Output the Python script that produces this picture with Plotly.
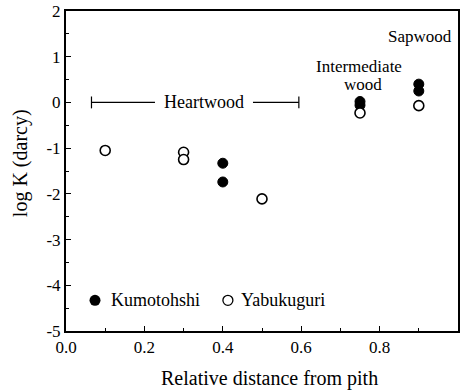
import plotly.graph_objects as go

# Data
kumo_x = [0.40, 0.40, 0.75, 0.75, 0.90, 0.90]
kumo_y = [-1.33, -1.74, 0.02, -0.06, 0.40, 0.25]
yabu_x = [0.10, 0.30, 0.30, 0.50, 0.75, 0.90]
yabu_y = [-1.05, -1.09, -1.25, -2.11, -0.23, -0.07]

x_ticks = [0.0, 0.2, 0.4, 0.6, 0.8, 1.0]
x_labels = ["0.0", "0.2", "0.4", "0.6", "0.8", "1.0"]
y_ticks = [-5, -4, -3, -2, -1, 0, 1, 2]
y_labels = ["-5", "-4", "-3", "-2", "-1", "0", "1", "2"]

FONT = "Times New Roman"
TXT = dict(family=FONT, size=18, color="black")

fig = go.Figure()
fig.add_trace(go.Scatter(x=kumo_x, y=kumo_y, mode="markers", name="Kumotohshi",
                         marker=dict(symbol="circle", size=10, color="black",
                                     line=dict(color="black", width=1)),
                         showlegend=False))
fig.add_trace(go.Scatter(x=yabu_x, y=yabu_y, mode="markers", name="Yabukuguri",
                         marker=dict(symbol="circle", size=10, color="white",
                                     line=dict(color="black", width=1.6)),
                         showlegend=False))

# in-plot legend markers
fig.add_trace(go.Scatter(x=[0.074], y=[-4.33], mode="markers", showlegend=False,
                         marker=dict(symbol="circle", size=11, color="black")))
fig.add_trace(go.Scatter(x=[0.413], y=[-4.33], mode="markers", showlegend=False,
                         marker=dict(symbol="circle", size=10, color="white",
                                     line=dict(color="black", width=1.3))))
fig.add_annotation(x=0.110, y=-4.33, text="Kumotohshi", showarrow=False,
                   xanchor="left", yanchor="middle", font=TXT)
fig.add_annotation(x=0.442, y=-4.33, text="Yabukuguri", showarrow=False,
                   xanchor="left", yanchor="middle", font=TXT)

# Heartwood bracket
lw = 1.2
fig.add_shape(type="line", x0=0.065, x1=0.227, y0=0, y1=0, line=dict(color="black", width=lw))
fig.add_shape(type="line", x0=0.477, x1=0.594, y0=0, y1=0, line=dict(color="black", width=lw))
fig.add_shape(type="line", x0=0.065, x1=0.065, y0=-0.13, y1=0.13, line=dict(color="black", width=lw))
fig.add_shape(type="line", x0=0.594, x1=0.594, y0=-0.13, y1=0.13, line=dict(color="black", width=lw))
fig.add_annotation(x=0.352, y=0.02, text="Heartwood", showarrow=False,
                   xanchor="center", yanchor="middle", font=TXT)
fig.add_annotation(x=0.747, y=0.79, text="Intermediate", showarrow=False,
                   xanchor="center", yanchor="middle", font=dict(family=FONT, size=17, color="black"))
fig.add_annotation(x=0.757, y=0.39, text="wood", showarrow=False,
                   xanchor="center", yanchor="middle", font=dict(family=FONT, size=17, color="black"))
fig.add_annotation(x=0.99, y=1.45, text="Sapwood", showarrow=False,
                   xanchor="right", yanchor="middle", font=dict(family=FONT, size=17, color="black"))

# axis titles
fig.add_annotation(xref="paper", yref="paper", x=0.518, y=-0.147,
                   text="Relative distance from pith", showarrow=False,
                   xanchor="center", yanchor="middle", font=dict(family=FONT, size=20, color="black"))
fig.add_annotation(xref="paper", yref="paper", x=-0.117, y=0.525,
                   text="log K (darcy)", showarrow=False, textangle=-90,
                   xanchor="center", yanchor="middle", font=dict(family=FONT, size=20, color="black"))

fig.update_layout(
    width=467, height=390,
    margin=dict(l=66, r=9, t=11, b=59, autoexpand=False),
    paper_bgcolor="white", plot_bgcolor="white",
    font=dict(family=FONT, size=16, color="black"),
    showlegend=False,
)
fig.update_xaxes(range=[0, 1], tickvals=x_ticks, ticktext=x_labels, automargin=False,
                 ticks="inside", ticklen=5, tickwidth=1.2, tickcolor="black",
                 minor=dict(dtick=0.1, ticks="inside", ticklen=3, tickcolor="black"),
                 showline=True, linecolor="black", linewidth=1.5, mirror=True,
                 showgrid=False, zeroline=False,
                 tickfont=dict(family=FONT, size=17))
fig.update_yaxes(range=[-5, 2], tickvals=y_ticks, ticktext=y_labels, automargin=False,
                 ticks="inside", ticklen=5, tickwidth=1.2, tickcolor="black",
                 minor=dict(dtick=0.5, ticks="inside", ticklen=3, tickcolor="black"),
                 showline=True, linecolor="black", linewidth=2, mirror=True,
                 showgrid=False, zeroline=False,
                 tickfont=dict(family=FONT, size=17))

fig.write_html("out.html", config={"displayModeBar": False},
               post_script="document.body.style.margin='0px';")
